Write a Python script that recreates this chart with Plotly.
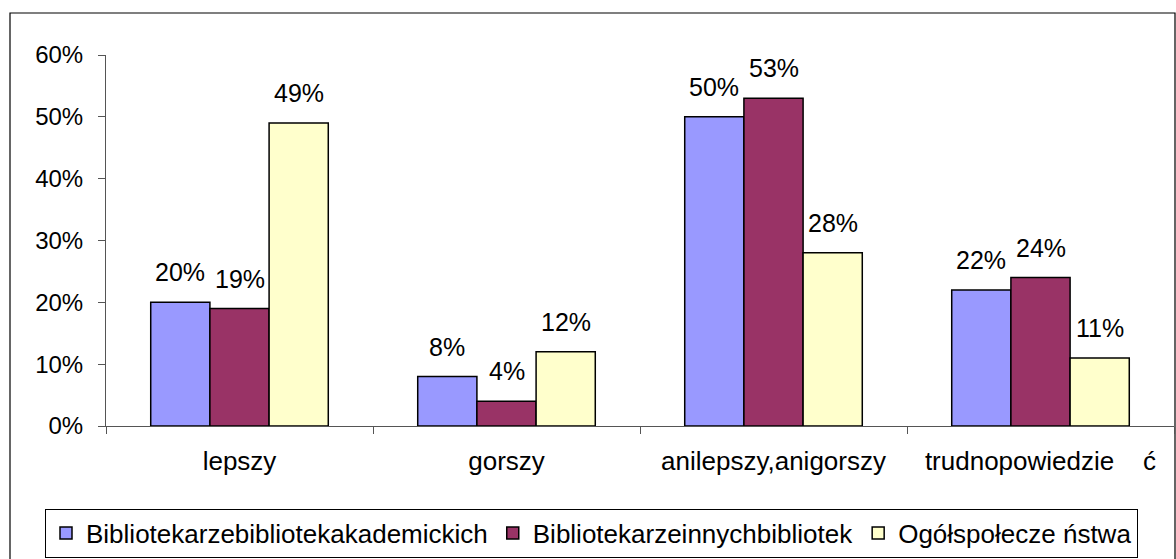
import plotly.graph_objects as go

categories = ["lepszy", "gorszy", "anilepszy,anigorszy", "trudnopowiedzie    ć"]
series_names = ["Bibliotekarzebibliotekakademickich", "Bibliotekarzeinnychbibliotek", "Ogółspołecze ństwa"]
academic = [0.20, 0.08, 0.50, 0.22]
other_libs = [0.19, 0.04, 0.53, 0.24]
society = [0.49, 0.12, 0.28, 0.11]
colors = ["#9999FF", "#993366", "#FFFFCC"]

W, H = 1176, 559
L, R, T, B = 106, 2, 55, 133
pw, ph = W - L - R, H - T - B

FONT = "Liberation Sans, Arial, sans-serif"
FS = 24

fig = go.Figure()
all_series = [academic, other_libs, society]
for name, vals, col in zip(series_names, all_series, colors):
    fig.add_trace(go.Bar(
        x=categories, y=vals, name=name,
        marker=dict(color=col, line=dict(color="#000000", width=1.5)),
        hoverinfo="skip",
    ))

# data labels
cat_px = pw / len(categories)
bargap = 0.335
bar_px = cat_px * (1 - bargap) / 3
for i, vals in enumerate(all_series):
    for c, v in zip(categories, vals):
        fig.add_annotation(
            x=c, y=v, text=f"{round(v*100)}%", showarrow=False,
            xshift=(i - 1) * bar_px, yshift=14, yanchor="bottom",
            font=dict(family=FONT, size=25, color="#000000"),
        )

# outer border
x0 = (10 - L) / pw
x1 = (1175 - L) / pw
y1 = 1 + (T - 13) / ph
y0 = -(B + 5) / ph
fig.add_shape(type="rect", xref="paper", yref="paper", x0=x0, x1=x1, y0=y0, y1=y1,
              line=dict(color="#000000", width=1.2), fillcolor="rgba(0,0,0,0)", layer="below")

fig.update_layout(
    width=W, height=H,
    margin=dict(l=L, r=R, t=T, b=B, pad=0),
    paper_bgcolor="white", plot_bgcolor="white",
    barmode="group", bargap=bargap, bargroupgap=0,
    font=dict(family=FONT, size=FS, color="#000000"),
    showlegend=True,
    legend=dict(
        orientation="h", x=(45 - L) / pw, xanchor="left", y=-(533 - 426) / ph, yanchor="middle",
        bordercolor="#000000", borderwidth=1, bgcolor="white",
        font=dict(family=FONT, size=26, color="#000000"),
        traceorder="normal", itemwidth=30,
    ),
    xaxis=dict(
        type="category", showline=True, linecolor="#555555", linewidth=1,
        ticks="outside", tickson="boundaries", ticklen=7, tickcolor="#555555",
        showgrid=False, ticklabelstandoff=12,
        tickfont=dict(family=FONT, size=26, color="#000000"),
    ),
    yaxis=dict(
        range=[0, 0.6], dtick=0.1, tickformat=".0%", showline=True, linecolor="#555555",
        linewidth=1, ticks="outside", ticklen=7, tickcolor="#555555", showgrid=False,
        zeroline=False, ticklabelstandoff=10,
        tickfont=dict(family=FONT, size=FS, color="#000000"),
    ),
)

fig.write_html("out.html", config={"displayModeBar": False},
               post_script="document.body.style.margin='0';document.body.style.overflow='hidden';")
